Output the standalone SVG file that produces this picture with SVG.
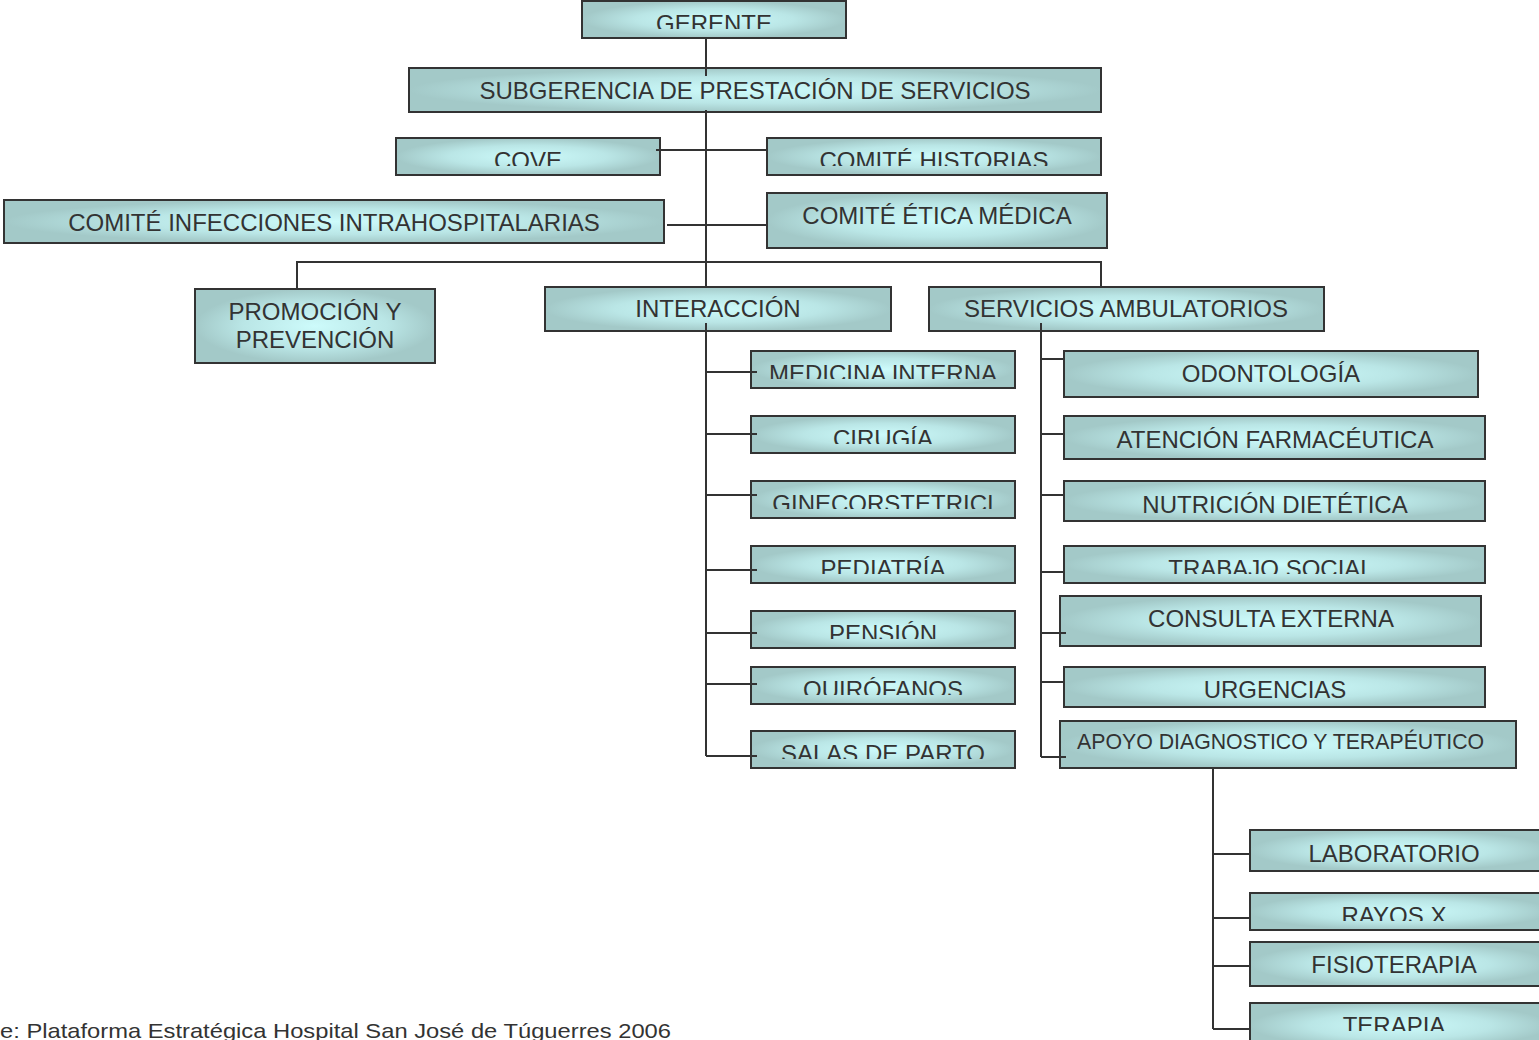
<svg xmlns="http://www.w3.org/2000/svg" width="1539" height="1040" viewBox="0 0 1539 1040">
<style>
.box{fill:url(#g);stroke:#333;stroke-width:2}
.t{font-family:"Liberation Sans",Arial,sans-serif;font-size:24px;fill:#333;text-anchor:middle}
.c{fill:none;stroke:#333;stroke-width:2}
</style>
<defs>
<radialGradient id="g" cx="0.5" cy="0.5" r="0.5">
<stop offset="0" stop-color="#cdfbfb"/>
<stop offset="0.6" stop-color="#bae6e6"/>
<stop offset="1" stop-color="#a3c9c8"/>
</radialGradient>
<clipPath id="k1" clipPathUnits="userSpaceOnUse"><rect x="582" y="1" width="264" height="28"/></clipPath>
<clipPath id="k2" clipPathUnits="userSpaceOnUse"><rect x="396" y="138" width="705" height="28"/></clipPath>
<clipPath id="k3" clipPathUnits="userSpaceOnUse"><rect x="751" y="351" width="264" height="28"/></clipPath>
<clipPath id="k4" clipPathUnits="userSpaceOnUse"><rect x="751" y="416" width="264" height="28"/></clipPath>
<clipPath id="k5" clipPathUnits="userSpaceOnUse"><rect x="751" y="481" width="264" height="28"/></clipPath>
<clipPath id="k6" clipPathUnits="userSpaceOnUse"><rect x="751" y="546" width="734" height="28"/></clipPath>
<clipPath id="k7" clipPathUnits="userSpaceOnUse"><rect x="751" y="611" width="264" height="28"/></clipPath>
<clipPath id="k8" clipPathUnits="userSpaceOnUse"><rect x="751" y="667" width="264" height="28"/></clipPath>
<clipPath id="k9" clipPathUnits="userSpaceOnUse"><rect x="751" y="731" width="264" height="28"/></clipPath>
<clipPath id="k10" clipPathUnits="userSpaceOnUse"><rect x="1250" y="893" width="300" height="28"/></clipPath>
<clipPath id="k11" clipPathUnits="userSpaceOnUse"><rect x="1250" y="1003" width="300" height="28"/></clipPath>
</defs>

<g id="gerente"><rect class="box" x="582" y="1" width="264" height="37"/><text class="t" x="714" y="32" clip-path="url(#k1)">GERENTE</text></g>
<g id="subgerencia"><rect class="box" x="409" y="68" width="692" height="44"/><text class="t" x="755" y="99">SUBGERENCIA DE PRESTACIÓN DE SERVICIOS</text></g>
<g id="cove"><rect class="box" x="396" y="138" width="264" height="37"/><text class="t" x="528" y="169" clip-path="url(#k2)">COVE</text></g>
<g id="comite-historias"><rect class="box" x="767" y="138" width="334" height="37"/><text class="t" x="934" y="169" clip-path="url(#k2)">COMITÉ HISTORIAS</text></g>
<g id="comite-infecciones"><rect class="box" x="4" y="200" width="660" height="43"/><text class="t" x="334" y="231">COMITÉ INFECCIONES INTRAHOSPITALARIAS</text></g>
<g id="comite-etica"><rect class="box" x="767" y="193" width="340" height="55"/><text class="t" x="937" y="224">COMITÉ ÉTICA MÉDICA</text></g>
<g id="promocion"><rect class="box" x="195" y="289" width="240" height="74"/><text class="t" x="315" y="320">PROMOCIÓN Y</text><text class="t" x="315" y="348">PREVENCIÓN</text></g>
<g id="interaccion"><rect class="box" x="545" y="287" width="346" height="44"/><text class="t" x="718" y="317">INTERACCIÓN</text></g>
<g id="servicios"><rect class="box" x="929" y="287" width="395" height="44"/><text class="t" x="1126" y="317">SERVICIOS AMBULATORIOS</text></g>

<g id="medicina"><rect class="box" x="751" y="351" width="264" height="37"/><text class="t" x="883" y="382" clip-path="url(#k3)">MEDICINA INTERNA</text></g>
<g id="cirugia"><rect class="box" x="751" y="416" width="264" height="37"/><text class="t" x="883" y="447" clip-path="url(#k4)">CIRUGÍA</text></g>
<g id="gineco"><rect class="box" x="751" y="481" width="264" height="37"/><text class="t" x="883" y="512" clip-path="url(#k5)">GINECORSTETRICI</text></g>
<g id="pediatria"><rect class="box" x="751" y="546" width="264" height="37"/><text class="t" x="883" y="577" clip-path="url(#k6)">PEDIATRÍA</text></g>
<g id="pension"><rect class="box" x="751" y="611" width="264" height="37"/><text class="t" x="883" y="642" clip-path="url(#k7)">PENSIÓN</text></g>
<g id="quirofanos"><rect class="box" x="751" y="667" width="264" height="37"/><text class="t" x="883" y="698" clip-path="url(#k8)">QUIRÓFANOS</text></g>
<g id="salas"><rect class="box" x="751" y="731" width="264" height="37"/><text class="t" x="883" y="762" clip-path="url(#k9)">SALAS DE PARTO</text></g>

<g id="odontologia"><rect class="box" x="1064" y="351" width="414" height="46"/><text class="t" x="1271" y="382">ODONTOLOGÍA</text></g>
<g id="atencion"><rect class="box" x="1064" y="416" width="421" height="43"/><text class="t" x="1275" y="448">ATENCIÓN FARMACÉUTICA</text></g>
<g id="nutricion"><rect class="box" x="1064" y="481" width="421" height="40"/><text class="t" x="1275" y="513">NUTRICIÓN DIETÉTICA</text></g>
<g id="trabajo"><rect class="box" x="1064" y="546" width="421" height="37"/><text class="t" x="1271" y="577" clip-path="url(#k6)">TRABAJO SOCIAL</text></g>
<g id="consulta"><rect class="box" x="1060" y="596" width="421" height="50"/><text class="t" x="1271" y="627">CONSULTA EXTERNA</text></g>
<g id="urgencias"><rect class="box" x="1064" y="667" width="421" height="40"/><text class="t" x="1275" y="698">URGENCIAS</text></g>
<g id="apoyo"><rect class="box" x="1060" y="721" width="456" height="47"/><text class="t" x="1077" y="749" style="text-anchor:start;font-size:21.3px">APOYO DIAGNOSTICO Y TERAPÉUTICO</text></g>

<g id="laboratorio"><rect class="box" x="1250" y="830" width="300" height="41"/><text class="t" x="1394" y="862">LABORATORIO</text></g>
<g id="rayos"><rect class="box" x="1250" y="893" width="300" height="37"/><text class="t" x="1394" y="924" clip-path="url(#k10)">RAYOS X</text></g>
<g id="fisioterapia"><rect class="box" x="1250" y="942" width="300" height="44"/><text class="t" x="1394" y="973">FISIOTERAPIA</text></g>
<g id="terapia"><rect class="box" x="1250" y="1003" width="300" height="45"/><text class="t" x="1394" y="1034" clip-path="url(#k11)">TERAPIA</text></g>

<g id="connectors" class="c">
<path d="M706 38V76M706 110V287M706 323V756M656 150H767M667 225H767M297 289V262H1101V287"/>
<path d="M706 372H757M706 434H757M706 495H757M706 570H757M706 633H757M706 684H757M706 756H757"/>
<path d="M1041 323V757M1041 359H1064M1041 434H1064M1041 495H1064M1041 572H1064M1041 633H1066M1041 682H1064M1041 757H1066"/>
<path d="M1213 768V1029M1213 854H1250M1213 918H1250M1213 966H1250M1213 1029H1250"/>
</g>

<text x="0" y="1038" style="font-family:'Liberation Sans',Arial,sans-serif;font-size:21px;fill:#333" textLength="671" lengthAdjust="spacingAndGlyphs">e: Plataforma Estratégica Hospital San José de Túguerres 2006</text>
</svg>
